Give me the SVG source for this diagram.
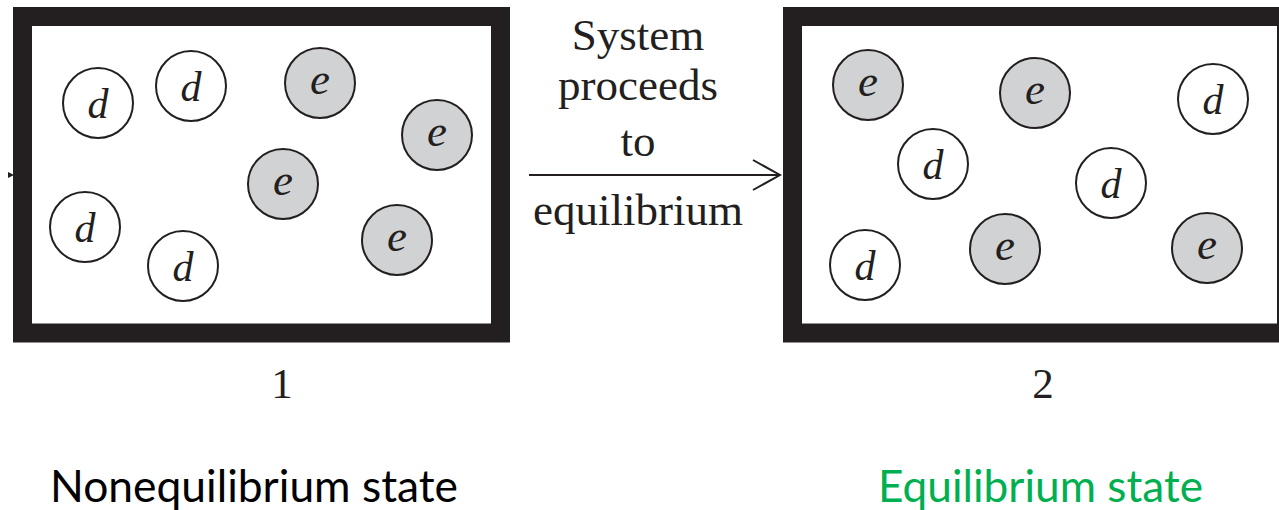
<svg xmlns="http://www.w3.org/2000/svg" width="1279" height="510" viewBox="0 0 1279 510">
<style>
.box{fill:#fff;stroke:#231f20;stroke-width:19}
.pd{fill:#fff;stroke:#231f20;stroke-width:2}
.pe{fill:#d1d2d4;stroke:#231f20;stroke-width:2}
.lt{font-family:"Liberation Serif",serif;font-style:italic;fill:#231f20;text-anchor:middle}
.ld{font-size:42px}
.le{font-size:45px}
.cap{font-family:"Liberation Serif",serif;font-size:45px;fill:#231f20;text-anchor:middle}
.num{font-family:"Liberation Serif",serif;font-size:43px;fill:#231f20;text-anchor:middle}
.lab{font-family:Lato,"Open Sans",sans-serif;font-size:45px}
</style>
<defs>
<marker id="open" markerWidth="30" markerHeight="40" refX="28" refY="18" orient="auto" markerUnits="userSpaceOnUse">
<path d="M1,3 L28,18 L1,33" fill="none" stroke="#231f20" stroke-width="2"/>
</marker>
</defs>
<g id="connectors">
<path d="M8,172 L14,175 L8,178 Z" fill="#231f20"/>
<line x1="529" y1="175" x2="780" y2="175" stroke="#231f20" stroke-width="2" marker-end="url(#open)"/>
<text class="cap" x="638" y="50">System</text>
<text class="cap" x="638" y="100">proceeds</text>
<text class="cap" x="638" y="156">to</text>
<text class="cap" x="638" y="225">equilibrium</text>
</g>
<g id="box1">
<rect class="box" x="22.5" y="16.5" width="478" height="316.5"/>
</g>
<g id="box2">
<rect class="box" x="792.5" y="16.5" width="494" height="316.5"/>
</g>
<g id="state1-particles">
<g id="p1d1"><circle class="pd" cx="98" cy="103" r="35"/><text class="lt ld" x="98" y="118">d</text></g>
<g id="p1d2"><circle class="pd" cx="191" cy="86" r="35"/><text class="lt ld" x="191" y="101">d</text></g>
<g id="p1e1"><circle class="pe" cx="320" cy="83" r="35"/><text class="lt le" x="320" y="94">e</text></g>
<g id="p1e2"><circle class="pe" cx="437" cy="135" r="35"/><text class="lt le" x="437" y="146">e</text></g>
<g id="p1e3"><circle class="pe" cx="283" cy="184" r="35"/><text class="lt le" x="283" y="195">e</text></g>
<g id="p1d3"><circle class="pd" cx="85" cy="227" r="35"/><text class="lt ld" x="85" y="242">d</text></g>
<g id="p1d4"><circle class="pd" cx="183" cy="266" r="35"/><text class="lt ld" x="183" y="281">d</text></g>
<g id="p1e4"><circle class="pe" cx="397" cy="240" r="35"/><text class="lt le" x="397" y="251">e</text></g>
</g>
<g id="state2-particles">
<g id="p2e1"><circle class="pe" cx="868" cy="85" r="35"/><text class="lt le" x="868" y="96">e</text></g>
<g id="p2e2"><circle class="pe" cx="1035" cy="93" r="35"/><text class="lt le" x="1035" y="104">e</text></g>
<g id="p2d1"><circle class="pd" cx="1213" cy="99" r="35"/><text class="lt ld" x="1213" y="114">d</text></g>
<g id="p2d2"><circle class="pd" cx="933" cy="164" r="35"/><text class="lt ld" x="933" y="179">d</text></g>
<g id="p2d3"><circle class="pd" cx="1111" cy="183" r="35"/><text class="lt ld" x="1111" y="198">d</text></g>
<g id="p2d4"><circle class="pd" cx="865" cy="265" r="35"/><text class="lt ld" x="865" y="280">d</text></g>
<g id="p2e3"><circle class="pe" cx="1005" cy="249" r="35"/><text class="lt le" x="1005" y="260">e</text></g>
<g id="p2e4"><circle class="pe" cx="1207" cy="248" r="35"/><text class="lt le" x="1207" y="259">e</text></g>
</g>
<g id="labels">
<text class="num" x="282" y="398">1</text>
<text class="num" x="1043" y="398">2</text>
<text class="lab" x="50" y="502" fill="#000" textLength="408" lengthAdjust="spacingAndGlyphs">Nonequilibrium state</text>
<text class="lab" x="878" y="502" fill="#00b050" textLength="325" lengthAdjust="spacingAndGlyphs">Equilibrium state</text>
</g>
</svg>
